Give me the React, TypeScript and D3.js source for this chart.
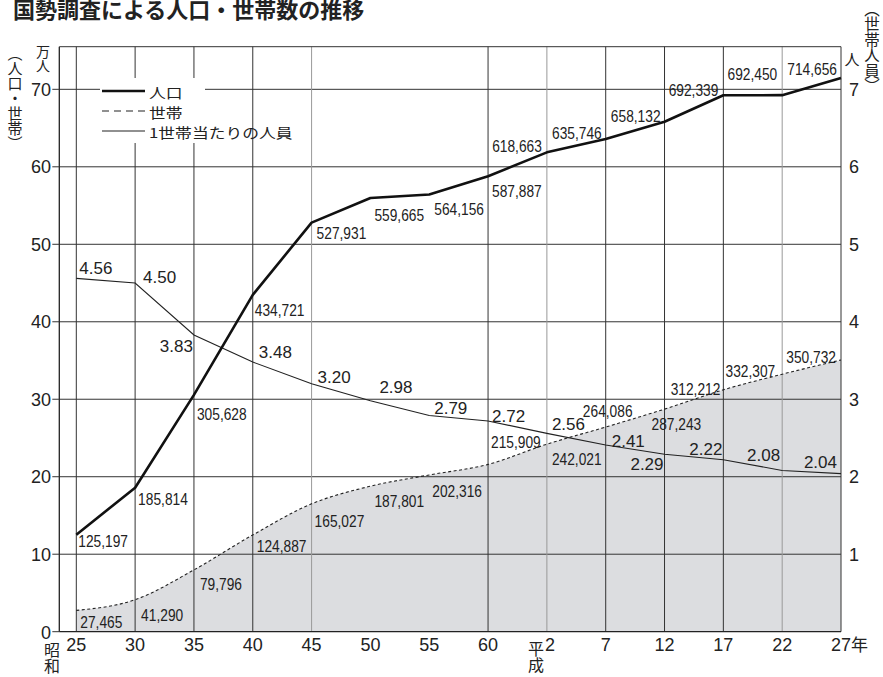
import * as d3 from "d3";

// 国勢調査 年次（昭和25〜60, 平成2〜27）
const years = ["25", "30", "35", "40", "45", "50", "55", "60", "2", "7", "12", "17", "22", "27"];
// 人口（人）
const population = [125197, 185814, 305628, 434721, 527931, 559665, 564156, 587887, 618663, 635746, 658132, 692339, 692450, 714656];
// 世帯数
const households = [27465, 41290, 79796, 124887, 165027, 187801, 202316, 215909, 242021, 264086, 287243, 312212, 332307, 350732];
// 1世帯当たりの人員
const perHousehold = [4.56, 4.5, 3.83, 3.48, 3.2, 2.98, 2.79, 2.72, 2.56, 2.41, 2.29, 2.22, 2.08, 2.04];

const leftTicks = [0, 10, 20, 30, 40, 50, 60, 70];
const rightTicks = [1, 2, 3, 4, 5, 6, 7];
const legendItems = ["人口", "世帯", "1世帯当たりの人員"];

// label placement: [anchor, dx, dy]
type Place = [string, number, number];
const popPlace: Place[] = [
  ["start", 2, 12], ["start", 3, 17], ["start", 3, 25], ["start", 2, 21], ["start", 5, 16],
  ["start", 4, 23], ["start", 5, 20], ["start", 4, 21], ["end", -5, 0], ["end", -4, 0],
  ["end", -4, 0], ["end", -5, 1], ["end", -5, -15], ["end", -4, -3],
];
const hhPlace: Place[] = [
  ["start", 4, 18], ["start", 6, 21], ["start", 6, 20], ["start", 4, 17], ["start", 3, 23],
  ["start", 4, 21], ["start", 3, 22], ["start", 3, -16], ["start", 5, 21], ["middle", 2, -10],
  ["start", -13, 21], ["end", -3, 5], ["end", -7, 3], ["end", -5, 3],
];
const perPlace: Place[] = [
  ["start", 3, -4], ["start", 8, 0], ["end", -1, 17], ["start", 6, -4], ["start", 6, -1],
  ["start", 9, -8], ["start", 5, -2], ["start", 4, 1], ["start", 5, -3], ["start", 6, 2],
  ["end", -1, 16], ["end", -1, -5], ["end", -2, -10], ["end", -4, -6],
];

const lightGrid = new Set(["45", "2", "22"]);
const noGrid = new Set(["50", "55"]);

const W = 883;
const H = 677;
const axisX = 59.3;
const plotTop = 46.7;
const plotBottom = 631.7;
const plotRight = 841;

const CJK = "'Noto Sans CJK JP', 'Noto Sans', sans-serif";
const NUM = "'Liberation Sans', Arial, sans-serif";
const INK = "#222";

const fmt = d3.format(",");

export default function App() {
  const x = d3.scalePoint<string>().domain(years).range([76.3, plotRight]);
  const y = d3.scaleLinear().domain([0, 75.5]).range([plotBottom, plotTop]);
  const yr = d3.scaleLinear().domain([0, 7.55]).range([plotBottom, plotTop]);
  const legendY = d3.scalePoint<string>().domain(legendItems).range([91, 131]);

  const px = (i: number) => x(years[i]) as number;

  const popLine = d3
    .line<number>()
    .x((_, i) => px(i))
    .y((d) => y(d / 10000));
  const hhLine = d3
    .line<number>()
    .x((_, i) => px(i))
    .y((d) => y(d / 10000))
    .curve(d3.curveMonotoneX);
  const hhArea = d3
    .area<number>()
    .x((_, i) => px(i))
    .y0(plotBottom)
    .y1((d) => y(d / 10000))
    .curve(d3.curveMonotoneX);
  const perLine = d3
    .line<number>()
    .x((_, i) => px(i))
    .y((d) => yr(d));

  const countLabel = (v: number, i: number, p: Place, yy: number, key: string) => (
    <g key={key} transform={`translate(${px(i) + p[1]},${yy + p[2]}) scale(0.86,1)`}>
      <text textAnchor={p[0]} fontFamily={NUM} fontSize={16} fill={INK}>
        {fmt(v)}
      </text>
    </g>
  );

  // vertical (tategaki) text, x = centre line, y = top
  const vtext = (t: string, cx: number, top: number, size: number) => (
    <text
      x={cx}
      y={top}
      style={{ writingMode: "vertical-rl" }}
      fontFamily={CJK}
      fontSize={size}
      fill={INK}
    >
      {t}
    </text>
  );

  const legendStroke: { w: number; dash?: string }[] = [
    { w: 2.6 },
    { w: 1.1, dash: "7,5" },
    { w: 1.1 },
  ];

  return (
    <svg
      width={W}
      height={H}
      viewBox={`0 0 ${W} ${H}`}
      style={{ position: "absolute", left: 0, top: 0, background: "#fff" }}
    >
      {/* title */}
      <text x={13} y={18} fontFamily={CJK} fontSize={22} fontWeight="bold" fill={INK}>
        国勢調査による人口・世帯数の推移
      </text>

      {/* household area */}
      <path d={hhArea(households) || ""} fill="#dcdde0" />

      {/* horizontal grid */}
      {leftTicks.slice(1).map((t) => (
        <line key={"h" + t} x1={axisX} x2={plotRight} y1={y(t)} y2={y(t)} stroke="#333" strokeWidth={1} />
      ))}
      {/* vertical grid */}
      {years
        .filter((yy) => !noGrid.has(yy))
        .map((yy) => (
          <line
            key={"v" + yy}
            x1={x(yy)}
            x2={x(yy)}
            y1={plotTop}
            y2={plotBottom}
            stroke={lightGrid.has(yy) ? "#999" : "#333"}
            strokeWidth={1}
          />
        ))}
      {/* frame */}
      <line x1={axisX} x2={plotRight} y1={plotTop} y2={plotTop} stroke="#333" />
      <line x1={axisX} x2={plotRight} y1={plotBottom} y2={plotBottom} stroke="#222" strokeWidth={1.3} />
      <line x1={axisX} x2={axisX} y1={plotTop} y2={plotBottom} stroke="#222" strokeWidth={1.3} />

      {/* left axis */}
      {leftTicks.map((t) => (
        <g key={"lt" + t}>
          <line x1={axisX - 7} x2={axisX} y1={y(t)} y2={y(t)} stroke="#333" />
          <text
            x={51}
            y={y(t) + (t === 0 ? 1 : 0.5)}
            textAnchor="end"
            dominantBaseline="central"
            fontFamily={NUM}
            fontSize={18}
            fill={INK}
          >
            {t}
          </text>
        </g>
      ))}
      {/* right axis */}
      {rightTicks.map((t) => (
        <text
          key={"rt" + t}
          x={849}
          y={yr(t) + 0.5}
          dominantBaseline="central"
          fontFamily={NUM}
          fontSize={18}
          fill={INK}
        >
          {t}
        </text>
      ))}

      {/* bottom axis */}
      {years.map((yy) => (
        <text
          key={"b" + yy}
          x={(x(yy) as number) + (yy === "2" ? 3 : 0)}
          y={651}
          textAnchor="middle"
          fontFamily={NUM}
          fontSize={18}
          fill={INK}
        >
          {yy}
        </text>
      ))}
      <text x={851} y={651} fontFamily={CJK} fontSize={17} fill={INK}>
        年
      </text>
      {vtext("昭和", 52, 642, 16)}
      {vtext("平成", 536, 641, 16)}

      {/* axis titles */}
      {vtext("万人", 43, 45, 14)}
      {vtext("︵人口・世帯︶", 15, 46, 15)}
      <text x={852} y={58} textAnchor="middle" dominantBaseline="central" fontFamily={CJK} fontSize={15} fill={INK}>
        人
      </text>
      {vtext("︵世帯人員︶", 872, 1, 15.5)}

      {/* lines */}
      <path d={hhLine(households) || ""} fill="none" stroke="#222" strokeWidth={1.1} strokeDasharray="3,2.5" />
      <path d={perLine(perHousehold) || ""} fill="none" stroke="#222" strokeWidth={1.1} />
      <path d={popLine(population) || ""} fill="none" stroke="#111" strokeWidth={2.6} strokeLinejoin="round" />

      {/* labels */}
      {population.map((v, i) => countLabel(v, i, popPlace[i], y(v / 10000), "p" + i))}
      {households.map((v, i) => countLabel(v, i, hhPlace[i], y(v / 10000), "h" + i))}
      {perHousehold.map((v, i) => (
        <text
          key={"r" + i}
          x={px(i) + perPlace[i][1]}
          y={yr(v) + perPlace[i][2]}
          textAnchor={perPlace[i][0]}
          fontFamily={NUM}
          fontSize={17}
          fill={INK}
        >
          {v.toFixed(2)}
        </text>
      ))}

      {/* legend */}
      <rect x={100} y={78} width={105} height={65} fill="#fff" />
      {legendItems.map((t, k) => {
        const ly = legendY(t) as number;
        return (
          <g key={"lg" + k}>
            <line
              x1={102}
              x2={145}
              y1={ly}
              y2={ly}
              stroke={k === 0 ? "#111" : "#222"}
              strokeWidth={legendStroke[k].w}
              strokeDasharray={legendStroke[k].dash}
            />
            <g transform={`translate(149,${ly + 0.5}) scale(1.05,0.86)`}>
              <text dominantBaseline="central" fontFamily={CJK} fontSize={16} fill={INK}>
                {t}
              </text>
            </g>
          </g>
        );
      })}
    </svg>
  );
}
